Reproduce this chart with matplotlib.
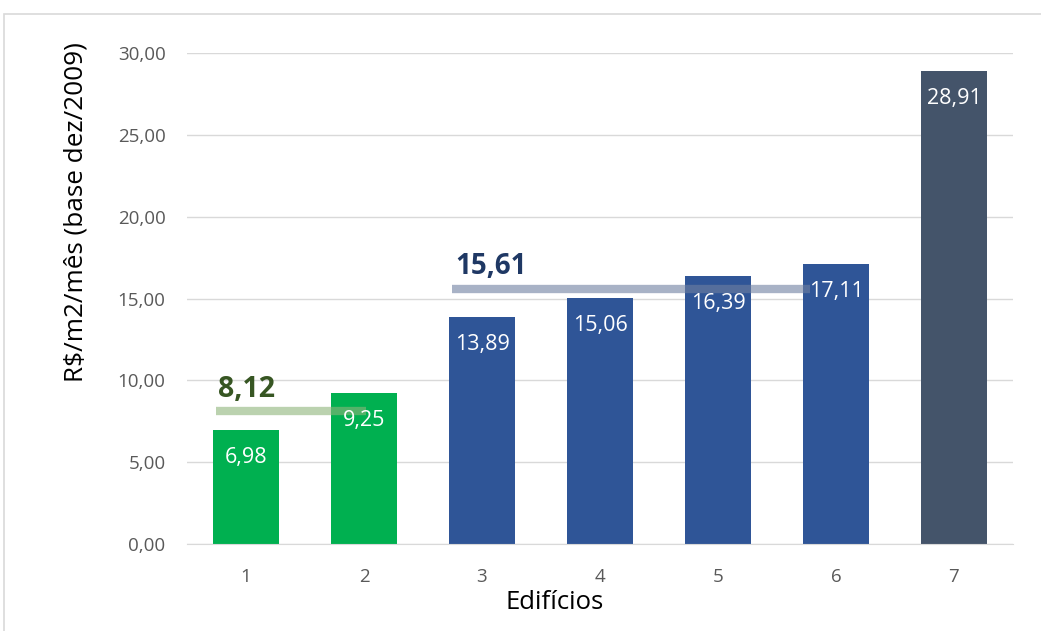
import matplotlib
matplotlib.use("Agg")
import matplotlib.pyplot as plt
from matplotlib.patches import Rectangle

# data
edificios = ["1", "2", "3", "4", "5", "6", "7"]
valores = [6.98, 9.25, 13.89, 15.06, 16.39, 17.11, 28.91]
cores = ["#00b050", "#00b050", "#2f5597", "#2f5597", "#2f5597", "#2f5597", "#44546a"]

media_verde = 8.12
media_azul = 15.61
yticks = [0, 5, 10, 15, 20, 25, 30]


def fmt(v):
    return f"{v:.2f}".replace(".", ",")


def main():
    plt.rcParams["font.family"] = ["Open Sans", "DejaVu Sans"]
    fig = plt.figure(figsize=(10.41, 6.31), dpi=100)
    # outer frame of the chart (only top/left visible)
    fig.patches.append(Rectangle((4 / 1041, -0.1), 1.2, 1 - 14 / 631 + 0.1,
                                 transform=fig.transFigure, fill=False,
                                 edgecolor="#d9d9d9", linewidth=1.2))
    ax = fig.add_axes([187 / 1041, 1 - 544 / 631, (1013 - 187) / 1041, (544 - 53) / 631])

    x = list(range(1, len(valores) + 1))
    ax.bar(x, valores, width=0.56, color=cores, zorder=2)
    for xi, v in zip(x, valores):
        ax.text(xi, v - 1.7, fmt(v), ha="center", va="center", color="white",
                fontsize=15.5, zorder=4)

    # average lines
    ax.plot([0.75, 2.02], [media_verde, media_verde], color="#8fb47a", alpha=0.6,
            linewidth=6, solid_capstyle="butt", zorder=3)
    ax.text(0.76, media_verde + 0.45, fmt(media_verde), color="#375623",
            fontsize=20.5, fontweight="bold", ha="left", va="bottom", zorder=4)
    ax.plot([2.745, 5.78], [media_azul, media_azul], color="#6f7fa0", alpha=0.6,
            linewidth=6, solid_capstyle="butt", zorder=3)
    ax.text(2.77, media_azul + 0.45, fmt(media_azul), color="#1f3864",
            fontsize=20, fontweight="bold", ha="left", va="bottom", zorder=4)

    ax.set_xlim(0.5, 7.5)
    ax.set_ylim(0, 30)
    ax.set_yticks(yticks)
    ax.set_yticklabels([fmt(t) for t in yticks])
    ax.set_xticks(x)
    ax.set_xticklabels(edificios)
    ax.tick_params(axis="both", length=0, labelsize=13.5, labelcolor="#595959")
    ax.tick_params(axis="x", pad=17)
    ax.tick_params(axis="y", pad=15.5)
    ax.grid(axis="y", color="#d9d9d9", linewidth=1, zorder=0)
    ax.set_axisbelow(True)
    for s in ["top", "right", "left"]:
        ax.spines[s].set_visible(False)
    ax.spines["bottom"].set_color("#d9d9d9")

    ax.set_ylabel("R$/m2/mês (base dez/2009)", fontsize=18.8, color="black")
    ax.yaxis.set_label_coords(-0.119, 0.676)
    ax.set_xlabel("Edifícios", fontsize=18.5, color="black")
    ax.xaxis.set_label_coords(0.4455, -0.094)

    fig.savefig("out.png", dpi=100)


if __name__ == "__main__":
    main()
